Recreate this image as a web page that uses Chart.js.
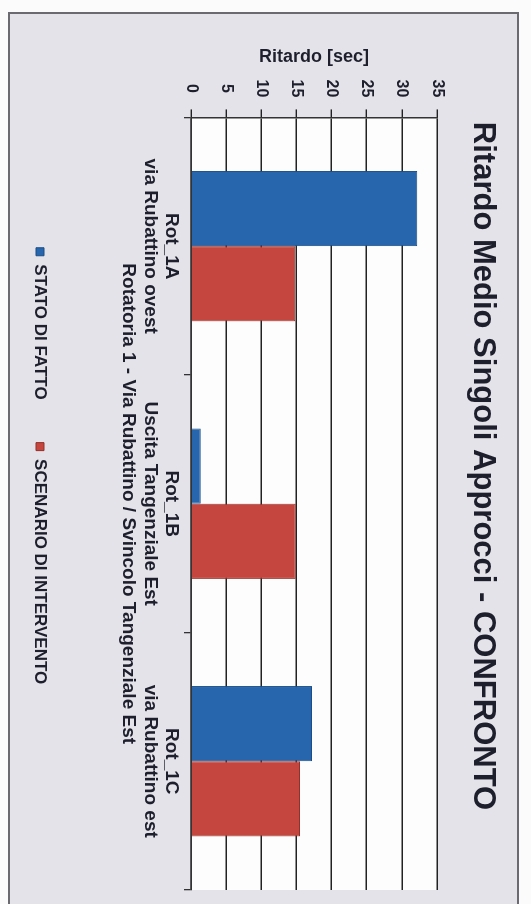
<!DOCTYPE html>
<html>
<head>
<meta charset="utf-8">
<script src="https://cdn.jsdelivr.net/npm/chart.js@4.4.1/dist/chart.umd.min.js"></script>
<style>
  html, body { margin: 0; padding: 0; background: #fbfbfb; overflow: hidden; }
  #panel { position: absolute; left: 8px; top: 12px; width: 507px; height: 900px;
           border: 2px solid #6a6a70; background: #e5e3ea; }
  /* il grafico originale è ruotato di 90° in senso orario */
  #wrap { position: absolute; left: 0; top: 0; width: 904px; height: 531px;
          transform-origin: 0 0; transform: translate(531px, 0) rotate(90deg); }
</style>
</head>
<body>
<div id="panel"></div>
<div id="wrap"><canvas id="c" width="904" height="531"></canvas></div>
<script>
// categorie (due righe ciascuna)
var categorie = [
  ["Rot_1A", "via Rubattino ovest"],
  ["Rot_1B", "Uscita Tangenziale Est"],
  ["Rot_1C", "via Rubattino est"]
];
// ritardo medio [sec]
var statoDiFatto = [32.2, 1.4, 17.2];
var scenarioIntervento = [14.85, 14.9, 15.5];
// tick asse valori
var tickMin = 0, tickMax = 35, tickStep = 5;

var testo = "#1d1f2c";

// sfondo bianco dell'area del grafico
var sfondoPlot = {
  id: "sfondoPlot",
  beforeDraw: function (chart) {
    var a = chart.chartArea, ctx = chart.ctx;
    ctx.save();
    ctx.fillStyle = "#fdfdfd";
    ctx.fillRect(a.left, a.top, a.right - a.left, a.bottom - a.top);
    ctx.restore();
  }
};

var ctx = document.getElementById("c").getContext("2d");
new Chart(ctx, {
  type: "bar",
  data: {
    labels: categorie,
    datasets: [
      {
        label: "STATO DI FATTO",
        data: statoDiFatto,
        backgroundColor: "#2766ad",
        borderColor: "#1b4d86",
        borderWidth: 1
      },
      {
        label: "SCENARIO DI INTERVENTO",
        data: scenarioIntervento,
        backgroundColor: "#c4463e",
        borderColor: "#93302a",
        borderWidth: 1
      }
    ]
  },
  options: {
    responsive: false,
    animation: false,
    devicePixelRatio: 1,
    layout: { padding: { top: 17, left: 42, right: 14, bottom: 21.5 } },
    datasets: { bar: { categoryPercentage: 0.584, barPercentage: 1.0 } },
    plugins: {
      title: {
        display: true,
        text: "Ritardo Medio Singoli Approcci - CONFRONTO",
        color: testo,
        font: { family: "Liberation Sans", size: 31, weight: "bold", lineHeight: 1.2 },
        padding: { top: 13, bottom: 26.8 }
      },
      legend: {
        position: "bottom",
        labels: {
          color: testo,
          boxWidth: 8,
          boxHeight: 8,
          padding: 43,
          font: { family: "Liberation Sans", size: 17, weight: "bold" }
        }
      },
      tooltip: { enabled: false }
    },
    scales: {
      x: {
        grid: { drawOnChartArea: false, drawTicks: true, tickLength: 7, color: "#333", lineWidth: 1.3 },
        border: { color: "#333", width: 1.5 },
        ticks: {
          color: testo,
          padding: 2,
          maxRotation: 0,
          minRotation: 0,
          font: { family: "Liberation Sans", size: 19, weight: "bold", lineHeight: 1.1 }
        },
        title: {
          display: true,
          text: "Rotatoria 1 - Via Rubattino / Svincolo Tangenziale Est",
          color: testo,
          font: { family: "Liberation Sans", size: 19, weight: "bold", lineHeight: 1.1 },
          padding: { top: 0, bottom: 25.8 }
        }
      },
      y: {
        min: tickMin,
        max: tickMax,
        grid: { color: "#222", lineWidth: 1.4, tickLength: 8 },
        border: { color: "#333", width: 1.5 },
        ticks: {
          stepSize: tickStep,
          color: testo,
          padding: 12,
          crossAlign: "center",
          font: { family: "Liberation Sans", size: 16, weight: "bold" }
        },
        title: {
          display: true,
          text: "Ritardo [sec]",
          color: testo,
          font: { family: "Liberation Sans", size: 18, weight: "bold", lineHeight: 1.2 },
          padding: { top: 4, bottom: 0 }
        }
      }
    }
  },
  plugins: [sfondoPlot]
});
</script>
</body>
</html>
